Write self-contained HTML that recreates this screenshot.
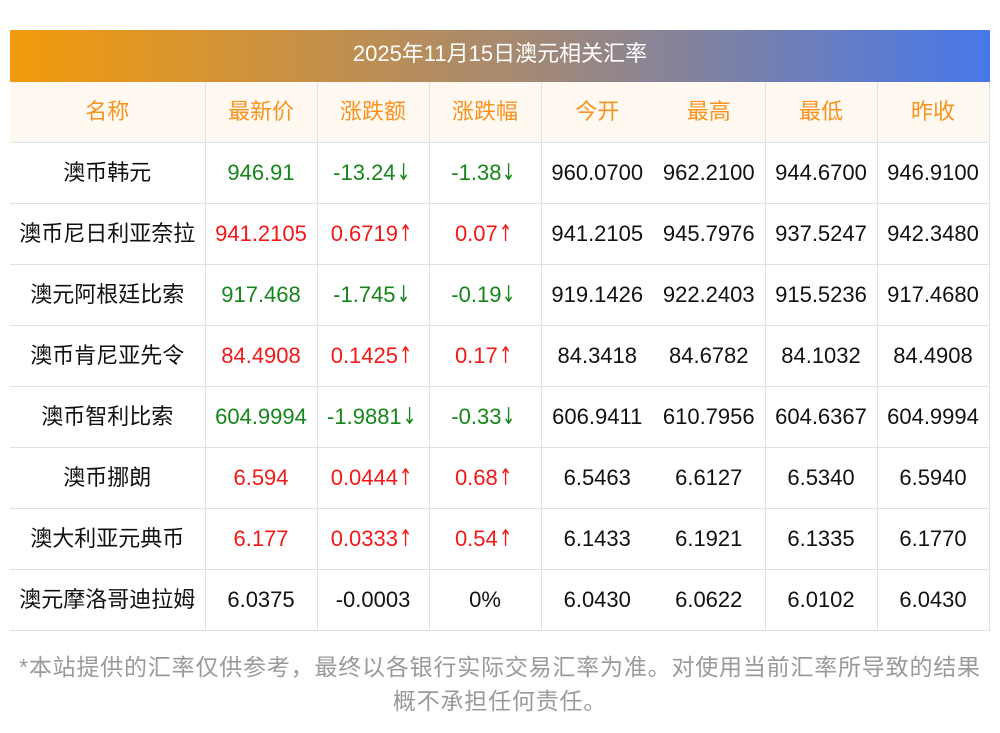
<!DOCTYPE html>
<html><head><meta charset="utf-8"><style>
body{margin:0;width:1000px;height:733px;background:#fff;font-family:"Liberation Sans","Noto Sans CJK SC",sans-serif;position:relative;overflow:hidden}
.title{position:absolute;left:10px;top:30px;width:980px;height:52px;background:linear-gradient(90deg,#f39a0c,#a98a6d 50%,#4777ea);color:#fff;font-size:22px;line-height:48px;text-align:center}
table{position:absolute;left:10px;top:82px;width:979px;border-collapse:collapse;table-layout:fixed}
td,th{height:60px;border:1px solid #dfe1ea;text-align:center;font-size:22px;font-weight:normal;padding:0;color:#111;white-space:nowrap;line-height:24px}
tr td:first-child,tr th:first-child{border-left:none}
th{background:#fff9f2;color:#f7921c;border-top:none;font-size:22px}
.nl{border-right:none}
.nr{border-left:none}
.g{color:#15861a}.r{color:#f21818}
b{font-weight:normal;font-size:23px;font-family:"DejaVu Sans",sans-serif;display:inline-block;transform:scaleX(0.7);margin-left:-2px;line-height:20px}
.foot{position:absolute;left:0;width:1000px;text-align:center;color:#9a9a9a;font-size:23px;letter-spacing:0.8px}
</style></head><body>
<div class="title">2025年11月15日澳元相关汇率</div>
<table>
<colgroup><col style="width:195px"><col style="width:112px"><col style="width:112px"><col style="width:112px"><col style="width:112px"><col style="width:112px"><col style="width:112px"><col style="width:112px"></colgroup>
<tr><th>名称</th><th>最新价</th><th>涨跌额</th><th>涨跌幅</th><th class="nl">今开</th><th class="nr">最高</th><th>最低</th><th>昨收</th></tr>
<tr><td>澳币韩元</td><td class="g">946.91</td><td class="g">-13.24<b>↓</b></td><td class="g">-1.38<b>↓</b></td><td class="nl">960.0700</td><td class="nr">962.2100</td><td>944.6700</td><td>946.9100</td></tr>
<tr><td>澳币尼日利亚奈拉</td><td class="r">941.2105</td><td class="r">0.6719<b>↑</b></td><td class="r">0.07<b>↑</b></td><td class="nl">941.2105</td><td class="nr">945.7976</td><td>937.5247</td><td>942.3480</td></tr>
<tr><td>澳元阿根廷比索</td><td class="g">917.468</td><td class="g">-1.745<b>↓</b></td><td class="g">-0.19<b>↓</b></td><td class="nl">919.1426</td><td class="nr">922.2403</td><td>915.5236</td><td>917.4680</td></tr>
<tr><td>澳币肯尼亚先令</td><td class="r">84.4908</td><td class="r">0.1425<b>↑</b></td><td class="r">0.17<b>↑</b></td><td class="nl">84.3418</td><td class="nr">84.6782</td><td>84.1032</td><td>84.4908</td></tr>
<tr><td>澳币智利比索</td><td class="g">604.9994</td><td class="g">-1.9881<b>↓</b></td><td class="g">-0.33<b>↓</b></td><td class="nl">606.9411</td><td class="nr">610.7956</td><td>604.6367</td><td>604.9994</td></tr>
<tr><td>澳币挪朗</td><td class="r">6.594</td><td class="r">0.0444<b>↑</b></td><td class="r">0.68<b>↑</b></td><td class="nl">6.5463</td><td class="nr">6.6127</td><td>6.5340</td><td>6.5940</td></tr>
<tr><td>澳大利亚元典币</td><td class="r">6.177</td><td class="r">0.0333<b>↑</b></td><td class="r">0.54<b>↑</b></td><td class="nl">6.1433</td><td class="nr">6.1921</td><td>6.1335</td><td>6.1770</td></tr>
<tr><td>澳元摩洛哥迪拉姆</td><td>6.0375</td><td>-0.0003</td><td>0%</td><td class="nl">6.0430</td><td class="nr">6.0622</td><td>6.0102</td><td>6.0430</td></tr>
</table>
<div class="foot" style="top:648px">*本站提供的汇率仅供参考，最终以各银行实际交易汇率为准。对使用当前汇率所导致的结果</div>
<div class="foot" style="top:682px">概不承担任何责任。</div>
</body></html>
